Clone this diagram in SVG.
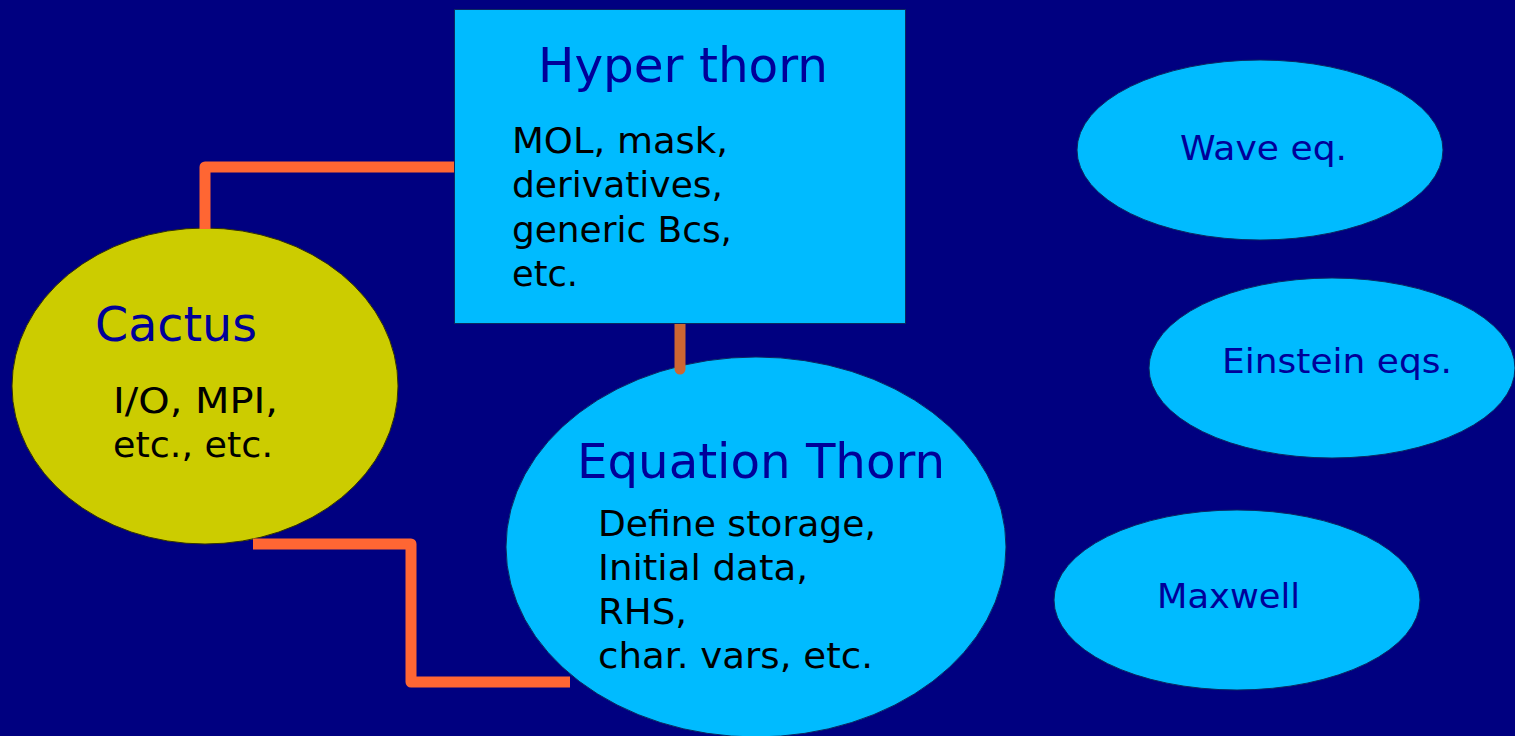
<svg xmlns="http://www.w3.org/2000/svg" width="1515" height="736" viewBox="0 0 1515 736">
<style>
.bg{fill:#000080}
.blue{fill:#00BBFF;stroke:#0a2a60;stroke-width:1}
.yel{fill:#CCCC00;stroke:#333300;stroke-width:1}
.title{font-family:"DejaVu Sans",Verdana,sans-serif;font-size:48px;fill:#000099}
.body{font-family:"DejaVu Sans",Verdana,sans-serif;font-size:35px;fill:#000000}
.lbl{font-family:"DejaVu Sans",Verdana,sans-serif;font-size:34px;fill:#000099}
.conn{fill:none;stroke:#FF6633;stroke-width:11;stroke-linejoin:round}
</style>
<rect class="bg" x="0" y="0" width="1515" height="736"/>
<g id="cactus">
<ellipse class="yel" cx="205" cy="386" rx="193" ry="158"/>
<text class="title" x="95" y="341" textLength="162" lengthAdjust="spacingAndGlyphs">Cactus</text>
<text class="body" x="113" y="413" textLength="165" lengthAdjust="spacingAndGlyphs">I/O, MPI,</text>
<text class="body" x="113" y="457" textLength="160" lengthAdjust="spacingAndGlyphs">etc., etc.</text>
</g>
<g id="equation">
<ellipse class="blue" cx="756" cy="547" rx="250" ry="190"/>
<text class="title" x="577" y="478" textLength="368" lengthAdjust="spacingAndGlyphs">Equation Thorn</text>
<text class="body" x="598" y="536" textLength="278" lengthAdjust="spacingAndGlyphs">Define storage,</text>
<text class="body" x="598" y="580" textLength="210" lengthAdjust="spacingAndGlyphs">Initial data,</text>
<text class="body" x="598" y="624" textLength="89" lengthAdjust="spacingAndGlyphs">RHS,</text>
<text class="body" x="598" y="668" textLength="275" lengthAdjust="spacingAndGlyphs">char. vars, etc.</text>
</g>
<g id="connectors">
<path class="conn" d="M205,229 V167 H454"/>
<path class="conn" d="M253,544 H411 V682 H570"/>
<path class="conn" style="stroke:#CC6633;stroke-linecap:round" d="M680,320 V369"/>
</g>
<g id="hyper">
<rect class="blue" x="454.5" y="9.5" width="451" height="314"/>
<text class="title" x="538" y="82" textLength="290" lengthAdjust="spacingAndGlyphs">Hyper thorn</text>
<text class="body" x="512" y="153" textLength="216" lengthAdjust="spacingAndGlyphs">MOL, mask,</text>
<text class="body" x="512" y="197" textLength="211" lengthAdjust="spacingAndGlyphs">derivatives,</text>
<text class="body" x="512" y="242" textLength="220" lengthAdjust="spacingAndGlyphs">generic Bcs,</text>
<text class="body" x="512" y="286" textLength="66" lengthAdjust="spacingAndGlyphs">etc.</text>
</g>
<g id="wave">
<ellipse class="blue" cx="1260" cy="150" rx="183" ry="90"/>
<text class="lbl" x="1180" y="160" textLength="167" lengthAdjust="spacingAndGlyphs">Wave eq.</text>
</g>
<g id="einstein">
<ellipse class="blue" cx="1332" cy="368" rx="183" ry="90"/>
<text class="lbl" x="1222" y="373" textLength="230" lengthAdjust="spacingAndGlyphs">Einstein eqs.</text>
</g>
<g id="maxwell">
<ellipse class="blue" cx="1237" cy="600" rx="183" ry="90"/>
<text class="lbl" x="1157" y="608" textLength="143" lengthAdjust="spacingAndGlyphs">Maxwell</text>
</g>
</svg>
